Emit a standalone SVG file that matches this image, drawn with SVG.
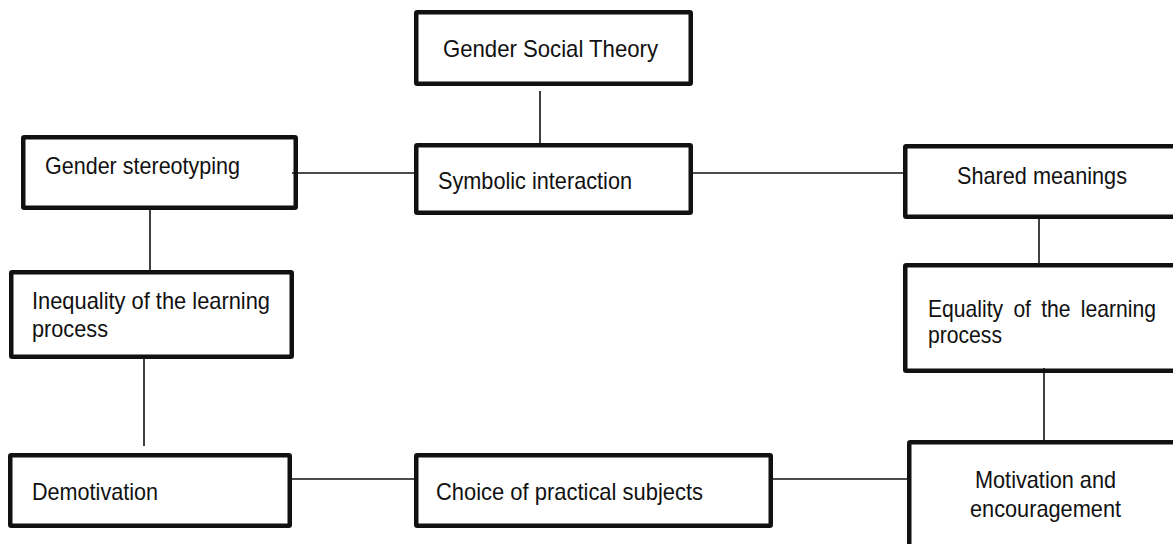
<svg xmlns="http://www.w3.org/2000/svg" width="1173" height="544" viewBox="0 0 1173 544">
<style>
.box{fill:#fff;stroke:#111;stroke-width:4.5}
.lbl{font-family:"Liberation Sans",Arial,sans-serif;font-size:24px;fill:#111}
.c{stroke:#111;stroke-width:1.6;fill:none}
</style>
<rect width="1173" height="544" fill="#fff"/>
<g id="gender-social-theory">
<rect class="box" x="416.25" y="12.25" width="274.5" height="71.5" rx="1"/>
<text class="lbl" x="443" y="57" textLength="215" lengthAdjust="spacingAndGlyphs">Gender Social Theory</text>
</g>
<g id="symbolic-interaction">
<rect class="box" x="416.25" y="145.25" width="274.5" height="67.5" rx="1"/>
<text class="lbl" x="438" y="189" textLength="194" lengthAdjust="spacingAndGlyphs">Symbolic interaction</text>
</g>
<g id="gender-stereotyping">
<rect class="box" x="23.25" y="137.25" width="272.5" height="70.5" rx="1"/>
<text class="lbl" x="45" y="174" textLength="195" lengthAdjust="spacingAndGlyphs">Gender stereotyping</text>
</g>
<g id="shared-meanings">
<rect class="box" x="905.25" y="146.25" width="280" height="70.5" rx="1"/>
<text class="lbl" x="957" y="184" textLength="170" lengthAdjust="spacingAndGlyphs">Shared meanings</text>
</g>
<g id="equality">
<rect class="box" x="905.25" y="265.25" width="280" height="105.5" rx="1"/>
<text class="lbl" x="928" y="317" word-spacing="5" textLength="228" lengthAdjust="spacingAndGlyphs">Equality of the learning</text>
<text class="lbl" x="928" y="343" textLength="74" lengthAdjust="spacingAndGlyphs">process</text>
</g>
<g id="motivation">
<rect class="box" x="909.25" y="442.25" width="280" height="120" rx="1"/>
<text class="lbl" x="1045.5" y="488" text-anchor="middle" textLength="141" lengthAdjust="spacingAndGlyphs">Motivation and</text>
<text class="lbl" x="1045.5" y="517" text-anchor="middle" textLength="151" lengthAdjust="spacingAndGlyphs">encouragement</text>
</g>
<g id="inequality">
<rect class="box" x="11.25" y="272.25" width="280.5" height="84.5" rx="1"/>
<text class="lbl" x="32" y="309" textLength="238" lengthAdjust="spacingAndGlyphs">Inequality of the learning</text>
<text class="lbl" x="32" y="337" textLength="76" lengthAdjust="spacingAndGlyphs">process</text>
</g>
<g id="demotivation">
<rect class="box" x="10.25" y="455.25" width="279.5" height="70.5" rx="1"/>
<text class="lbl" x="32" y="500" textLength="126" lengthAdjust="spacingAndGlyphs">Demotivation</text>
</g>
<g id="choice">
<rect class="box" x="416.25" y="455.25" width="354.5" height="70.5" rx="1"/>
<text class="lbl" x="436" y="500" textLength="267" lengthAdjust="spacingAndGlyphs">Choice of practical subjects</text>
</g>
<g id="connectors">
<line class="c" x1="540" y1="91" x2="540" y2="143"/>
<line class="c" x1="292" y1="173" x2="415" y2="173"/>
<line class="c" x1="693" y1="173" x2="903" y2="173"/>
<line class="c" x1="150" y1="210" x2="150" y2="270"/>
<line class="c" x1="1039" y1="219" x2="1039" y2="263"/>
<line class="c" x1="144" y1="359" x2="144" y2="446"/>
<line class="c" x1="1044" y1="368" x2="1044" y2="440"/>
<line class="c" x1="292" y1="479" x2="415" y2="479"/>
<line class="c" x1="773" y1="479" x2="907" y2="479"/>
</g>
</svg>
